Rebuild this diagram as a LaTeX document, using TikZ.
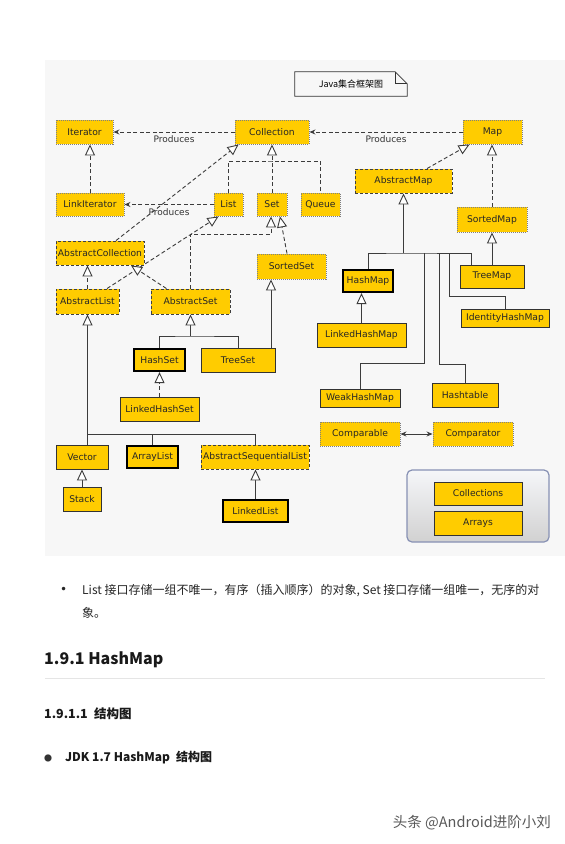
\documentclass[tikz,border=0pt]{standalone}
\usepackage{fontspec}
\setmainfont{DejaVu Sans}
\newfontfamily\cjk{Noto Sans CJK SC}
\usetikzlibrary{arrows.meta}
\definecolor{gold}{RGB}{255,204,0}
\definecolor{panelgray}{RGB}{247,247,247}
\definecolor{wirecol}{RGB}{60,60,60}
\definecolor{boxedge}{RGB}{135,145,180}

\begin{document}
\begin{tikzpicture}[x=1pt, y=-1pt,
        box/.style={fill=gold, text=black!85, inner sep=0pt, minimum height=24pt,
            font=\fontsize{9.2}{10}\selectfont},
        iface/.style={box, draw=black!50, dash pattern=on 1pt off 1pt, line width=0.9pt},
        abstr/.style={box, draw=black!75, dash pattern=on 3pt off 2pt, line width=0.9pt},
        impl/.style={box, draw=black!80, line width=0.9pt},
        core/.style={box, draw=black, line width=2.2pt},
        wire/.style={draw=wirecol, line width=0.9pt},
        dline/.style={wire, dash pattern=on 4pt off 2.5pt},
        inh/.style={-{Triangle[length=11pt, width=10pt, fill=white]}},
        prod/.style={-{Stealth[length=6pt, width=5pt]}},
        lbl/.style={font=\fontsize{9}{10}\selectfont, text=black!80},
        body/.style={font=\cjk\fontsize{12}{14}\selectfont, anchor=west, text=black!85, inner sep=0pt}]
        \useasboundingbox (0,0) rectangle (565,844);
        \fill[white] (0,0) rectangle (565,844);
        \fill[panelgray] (45,60) rectangle (565,556);

        \node[font=\cjk\fontsize{9}{10}\selectfont, minimum width=112pt, minimum height=24pt] (title) at (351,84) {Java集合框架图};
        \draw[black!80, line width=0.8pt] (title.north west) -- ([xshift=-12pt]title.north east)
            -- ([yshift=-12pt]title.north east) -- (title.south east) -- (title.south west) -- cycle;
        \draw[black!80, line width=0.8pt] ([xshift=-12pt]title.north east) |- ([yshift=-12pt]title.north east);

        \node[iface, minimum width=57pt] (iterator) at (84.5,132) {Iterator};
        \node[iface, minimum width=74pt] (coll) at (272,132) {Collection};
        \node[iface, minimum width=59pt] (map) at (492.5,132) {Map};
        \node[iface, minimum width=68pt, minimum height=23pt] (linkit) at (90,204.5) {LinkIterator};
        \node[iface, minimum width=29pt, minimum height=23pt] (list) at (228.5,204.5) {List};
        \node[iface, minimum width=30pt, minimum height=23pt] (set) at (272,204.5) {Set};
        \node[iface, minimum width=39pt, minimum height=23pt] (queue) at (320.5,204.5) {Queue};
        \node[abstr, minimum width=97pt] (absmap) at (403.5,181) {AbstractMap};
        \node[iface, minimum width=70pt, minimum height=25pt] (sortedmap) at (492,219.5) {SortedMap};
        \node[abstr, minimum width=88pt] (abscoll) at (100,253) {AbstractCollection};
        \node[iface, minimum width=69pt, minimum height=25pt] (sortedset) at (291.5,266.5) {SortedSet};
        \node[abstr, minimum width=63pt, minimum height=25pt] (abslist) at (87.5,301.5) {AbstractList};
        \node[abstr, minimum width=79pt, minimum height=25pt] (absset) at (190.5,301.5) {AbstractSet};
        \node[core, minimum width=50pt, minimum height=22pt] (hashmap) at (368,281) {HashMap};
        \node[impl, minimum width=64pt, minimum height=23pt] (treemap) at (492,276.5) {TreeMap};
        \node[impl, minimum width=88pt, minimum height=18pt] (identity) at (505,318) {IdentityHashMap};
        \node[impl, minimum width=89pt] (lhm) at (361.5,335) {LinkedHashMap};
        \node[core, minimum width=51pt, minimum height=22pt] (hashset) at (159.5,360) {HashSet};
        \node[impl, minimum width=74pt] (treeset) at (238,360) {TreeSet};
        \node[impl, minimum width=79pt] (lhs) at (159.5,409) {LinkedHashSet};
        \node[impl, minimum width=80pt, minimum height=18pt] (weak) at (360,398) {WeakHashMap};
        \node[impl, minimum width=66pt] (hashtable) at (465,395) {Hashtable};
        \node[iface, minimum width=80pt] (comparable) at (360,434) {Comparable};
        \node[iface, minimum width=80pt] (comparator) at (473,434) {Comparator};
        \node[impl, minimum width=52pt] (vector) at (82,457) {Vector};
        \node[core, minimum width=51pt, minimum height=22pt] (arraylist) at (152.5,457) {ArrayList};
        \node[abstr, minimum width=108pt] (asl) at (255,457) {AbstractSequentialList};
        \node[impl, minimum width=38pt] (stack) at (82,499) {Stack};
        \node[core, minimum width=65pt, minimum height=22pt] (linkedlist) at (255.5,511) {LinkedList};

        \node[draw=boxedge, line width=1.2pt, rounded corners=5pt, top color=white!92!boxedge,
            bottom color=black!18, minimum width=142pt, minimum height=72pt] (tools) at (478,506) {};
        \node[impl, minimum width=88pt, minimum height=23pt] (collections) at (478,493.5) {Collections};
        \node[impl, minimum width=88pt] (arrays) at (478,523) {Arrays};

        \draw[dline, prod] (coll) -- node[lbl, below] {Produces} (iterator);
        \draw[dline, prod] (map) -- node[lbl, below] {Produces} (coll);
        \draw[dline, prod] (list) -- node[lbl, below] {Produces} (linkit);
        \draw[dline, inh] (linkit.north) -- (linkit.north |- iterator.south);
        \draw[dline, inh] (set) -- (coll);
        \coordinate (collbus) at (272,161);
        \draw[dline] (list.north) |- (collbus) -| (queue.north);
        \draw[dline, inh] ([xshift=16pt]abscoll.north) -- ([xshift=4pt]coll.south west);
        \draw[dline, inh] ([xshift=19.5pt]abslist.north) -- ([xshift=-10pt]list.south);
        \draw[dline, inh] (abslist.north) -- (abslist.north |- abscoll.south);
        \draw[dline, inh] ([xshift=-24pt]absset.north) -- ([xshift=31pt]abscoll.south);
        \coordinate (setbus) at (271,234);
        \draw[dline, inh] (absset.north) |- (setbus) -- (setbus |- set.south);
        \draw[dline, inh] ([xshift=-4.5pt]sortedset.north) -- ([xshift=8pt]set.south);

        \coordinate (hsbus) at (190.5,336);
        \draw[wire, inh] (hsbus) -- (absset.south);
        \draw[wire] (hashset.north) |- (hsbus) -| (treeset.north);
        \draw[wire, inh] ([xshift=33pt]treeset.north) -- ([xshift=33pt]treeset.north |- sortedset.south);
        \draw[dline, inh] (lhs.north) -- (hashset.south);

        \coordinate (lbus) at (87.5,434);
        \draw[wire, inh] (lbus) -- (abslist.south);
        \draw[wire] (lbus |- vector.north) -- (lbus) -| (asl.north);
        \draw[wire] (arraylist.north) -- (arraylist.north |- lbus);
        \draw[wire, inh] (stack) -- (vector);
        \draw[wire, inh] (linkedlist.north) -- (linkedlist.north |- asl.south);

        \draw[dline, inh] ([xshift=23.5pt]absmap.north) -- ([xshift=7pt]map.south west);
        \draw[dline, inh] (sortedmap.north) -- (sortedmap.north |- map.south);
        \draw[wire, inh] (treemap) -- (sortedmap);
        \coordinate (mapbus) at (403.5,253);
        \draw[wire, inh] (mapbus) -- (absmap.south);
        \draw[wire] (hashmap.north) |- (mapbus) -| ([xshift=-21pt]treemap.north);
        \coordinate (weakturn) at (424,363);
        \draw[wire] (weakturn |- mapbus) -- (weakturn) -| (weak.north);
        \coordinate (tableturn) at (439,364);
        \draw[wire] (tableturn |- mapbus) -- (tableturn) -| (hashtable.north);
        \coordinate (identturn) at (449,296);
        \draw[wire] (identturn |- mapbus) -- (identturn) -| (identity.north);
        \draw[wire, inh] (lhm.north) -- (lhm.north |- hashmap.south);
        \draw[wire, {Stealth[length=6pt, width=5pt]}-{Stealth[length=6pt, width=5pt]}] (comparable) -- (comparator);

        \node[body, font=\fontsize{12}{14}\selectfont] (bullet) at (60,590) {•};
        \node[body] (line1) at (82,590) {List 接口存储一组不唯一，有序（插入顺序）的对象, Set 接口存储一组唯一，无序的对};
        \node[body] (line2) at (82,613) {象。};
        \node[body, font=\cjk\bfseries\fontsize{16}{18}\selectfont, text=black!90] (h1) at (44,660) {1.9.1 HashMap};
        \draw[black!10, line width=1pt] (45,678) -- (545,678);
        \node[body, font=\cjk\bfseries\fontsize{12.5}{14}\selectfont, text=black!90] (h2) at (44,714) {1.9.1.1\enspace 结构图};
        \node[body, font=\cjk\fontsize{8}{10}\selectfont, text=black!80] (dot) at (44,758) {●};
        \node[body, font=\cjk\bfseries\fontsize{12}{14}\selectfont, text=black!90] (h3) at (65,758) {JDK 1.7 HashMap\enspace 结构图};
        \node[body, anchor=east, font=\cjk\fontsize{14.5}{16}\selectfont, text=black!65] (mark) at (551,823) {头条 @Android进阶小刘};
\end{tikzpicture}
\end{document}
